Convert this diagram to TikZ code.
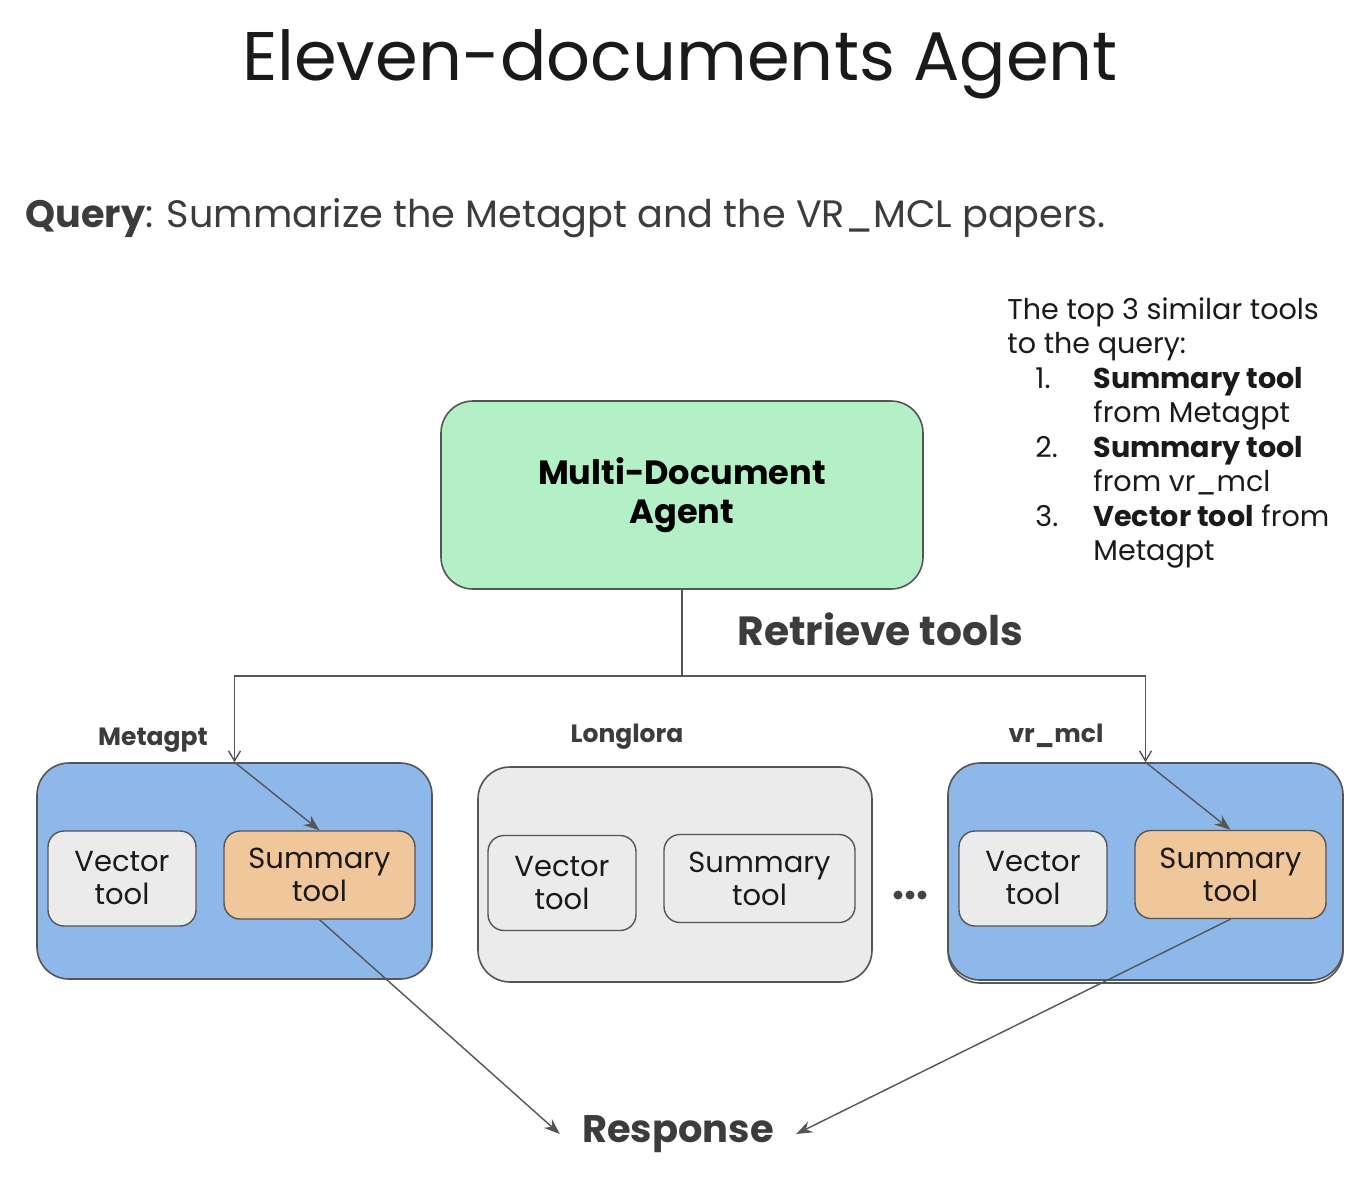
\documentclass[tikz,border=0pt]{standalone}
\usepackage{fontspec}
\setmainfont{Poppins}
\usetikzlibrary{arrows.meta}
\definecolor{linegray}{HTML}{555555}
\definecolor{agentgreen}{HTML}{B4F0C5}
\definecolor{docblue}{HTML}{8FB8EA}
\definecolor{toolgray}{HTML}{EBEBEB}
\definecolor{sumorange}{HTML}{F0C69B}
\definecolor{txtdark}{HTML}{1A1A1A}
\definecolor{labgray}{HTML}{3C3C3C}
\tikzset{
  box/.style={draw=linegray, line width=0.8pt, rounded corners=16pt, inner sep=0pt},
  toolbox/.style={draw=linegray, line width=0.7pt, rounded corners=8pt, inner sep=0pt,
    minimum width=74pt, align=center, font=\fontsize{14.5}{16.5}\selectfont, text=txtdark},
  vecbox/.style={toolbox, fill=toolgray, minimum width=74pt, minimum height=47.5pt},
  sumbox/.style={toolbox, minimum width=95.5pt, minimum height=44pt},
  doclabel/.style={font=\fontsize{12.5}{14}\selectfont\bfseries, text=labgray},
  conn/.style={draw=linegray, line width=0.7pt},
  tiparrow/.style={conn, -{Straight Barb[length=5pt,width=6pt]}},
  fillarrow/.style={conn, -{Stealth[length=8pt,width=6pt]}},
}
\begin{document}
\begin{tikzpicture}[x=0.5pt,y=-0.5pt]
\useasboundingbox (0,0) rectangle (1360,1200);
\fill[white] (0,0) rectangle (1360,1200);

% title
\node[anchor=base, font=\fontsize{34.4}{36}\selectfont, text=txtdark] (title) at (680,80) {Eleven-documents Agent};

% query
\node[anchor=base west, inner sep=0pt, font=\fontsize{19.1}{22}\selectfont, text=labgray] (query) at (25,227)
  {\textbf{Query}: Summarize the Metagpt and the VR\_MCL papers.};

% top 3 list
\node[anchor=north west, inner sep=0pt, align=left, font=\fontsize{14.3}{17.25}\selectfont, text=txtdark] (top3) at (1007,297)
  {The top 3 similar tools\\
   to the query:\\
   \hspace*{14pt}\makebox[29pt][l]{1.}\textbf{Summary tool}\\
   \hspace*{43pt}from Metagpt\\
   \hspace*{14pt}\makebox[29pt][l]{2.}\textbf{Summary tool}\\
   \hspace*{43pt}from vr\_mcl\\
   \hspace*{14pt}\makebox[29pt][l]{3.}\textbf{Vector tool} from\\
   \hspace*{43pt}Metagpt};

% agent
\node[box, fill=agentgreen, minimum width=241pt, minimum height=94pt, align=center,
  font=\fontsize{16.8}{19.5}\selectfont\bfseries, text=black] (agent) at (682,495)
  {Multi-Document\\Agent};

\node[anchor=base west, inner sep=0pt, font=\fontsize{20.4}{25}\selectfont\bfseries, text=labgray] (retrieve) at (737,645) {Retrieve tools};

% Metagpt
\node[box, fill=docblue, minimum width=197.5pt, minimum height=108pt] (mout) at (234.5,871) {};
\node[vecbox] (mvec) at (122,878.5) {Vector\\tool};
\node[sumbox, fill=sumorange] (msum) at (319.5,875) {Summary\\tool};
\node[doclabel, anchor=base] (mlab) at (153,745) {Metagpt};

% Longlora
\node[box, fill=toolgray, minimum width=197pt, minimum height=107.5pt] (lout) at (675,874.5) {};
\node[vecbox] (lvec) at (562,883) {Vector\\tool};
\node[sumbox, fill=toolgray] (lsum) at (759.5,878.5) {Summary\\tool};
\node[doclabel, anchor=base] (llab) at (627,742) {Longlora};

% dots
\fill[linegray!80!black] (898,895) circle (4.5) (910,895) circle (4.5) (922,895) circle (4.5);

% vr_mcl
\draw[draw=linegray, line width=0.8pt, rounded corners=16pt] (948,767) rectangle (1343,983);
\node[box, fill=docblue, minimum width=197.5pt, minimum height=108.5pt] (vout) at (1145.5,871.5) {};
\node[vecbox] (vvec) at (1033,878.5) {Vector\\tool};
\node[sumbox, fill=sumorange] (vsum) at (1230.5,874.5) {Summary\\tool};
\node[doclabel, anchor=base] (vlab) at (1056,742) {vr\_mcl};

% response
\node[font=\fontsize{19.2}{23}\selectfont\bfseries, text=labgray, inner xsep=11pt] (resp) at (678,1134) {Response};

% connectors
\coordinate (split) at (682,676);
\draw[conn] (agent.south) -- (split);
\draw[tiparrow] (split) -| (mout.north);
\draw[tiparrow] (split) -| (vout.north);
\draw[fillarrow] (mout.north) -- (msum.north);
\draw[fillarrow] (vout.north) -- (vsum.north);
\draw[fillarrow] (msum.south) -- (resp.west);
\draw[fillarrow] (vsum.south) -- (resp.east);
\end{tikzpicture}
\end{document}
